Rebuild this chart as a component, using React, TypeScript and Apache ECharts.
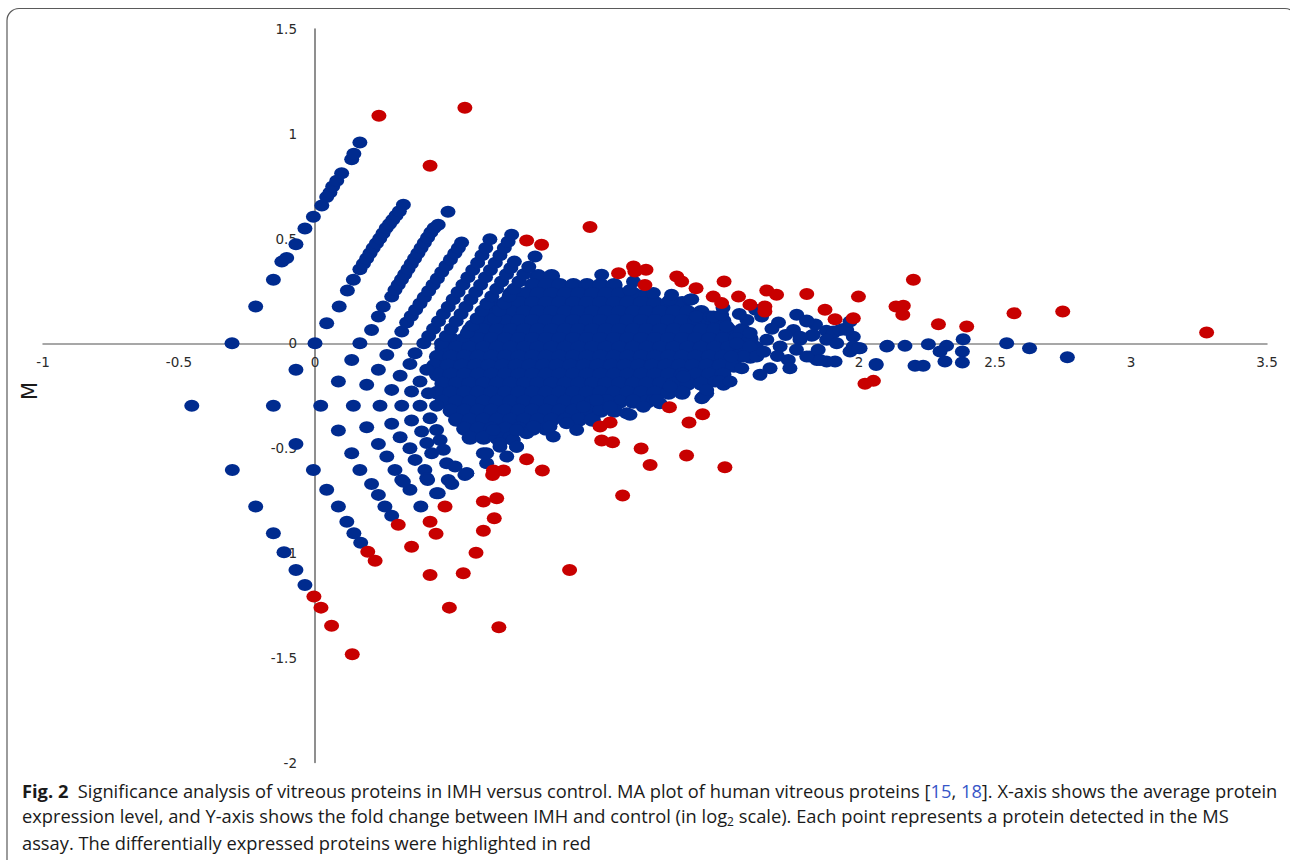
import React, { useEffect, useRef } from "react";
import * as echarts from "echarts";

// Axis ticks
const xMin = -1, xMax = 3.5, xStep = 0.5;
const yMin = -2, yMax = 1.5, yStep = 0.5;

// Upper-left diagonal stripes (blue)
const blueUpperStripes: number[][] = [
  [-0.305, 0], [-0.218, 0.176], [-0.153, 0.303], [-0.122, 0.39], [-0.104, 0.407], [-0.07, 0.473], [-0.037, 0.548],
  [-0.006, 0.604], [0.025, 0.658], [0.043, 0.698], [0.055, 0.72], [0.065, 0.748], [0.08, 0.776], [0.098, 0.812],
  [0.135, 0.879], [0.143, 0.905], [0.165, 0.958],
  [0, 0], [0.043, 0.096], [0.089, 0.176], [0.119, 0.252], [0.141, 0.303], [0.165, 0.354], [0.178, 0.38], [0.19, 0.405],
  [0.202, 0.43], [0.214, 0.455], [0.226, 0.478], [0.238, 0.5], [0.25, 0.525], [0.262, 0.55], [0.274, 0.57], [0.286, 0.59],
  [0.298, 0.61], [0.31, 0.63], [0.325, 0.661],
  [0.165, 0], [0.208, 0.064], [0.233, 0.128], [0.251, 0.176], [0.282, 0.223], [0.294, 0.255], [0.306, 0.28], [0.318, 0.305],
  [0.33, 0.33], [0.342, 0.355], [0.354, 0.38], [0.366, 0.405], [0.378, 0.43], [0.39, 0.455], [0.402, 0.48], [0.414, 0.505],
  [0.426, 0.53], [0.438, 0.55], [0.453, 0.566], [0.489, 0.628],
  [0.294, 0], [0.319, 0.056], [0.337, 0.1], [0.354, 0.13], [0.37, 0.16], [0.386, 0.19], [0.402, 0.22], [0.418, 0.25],
  [0.434, 0.28], [0.45, 0.31], [0.466, 0.34], [0.482, 0.37], [0.498, 0.4], [0.514, 0.43], [0.527, 0.455], [0.539, 0.481],
  [0.4, 0], [0.418, 0.035], [0.436, 0.07], [0.454, 0.105], [0.472, 0.14], [0.49, 0.175], [0.508, 0.21], [0.526, 0.245],
  [0.544, 0.28], [0.562, 0.315], [0.58, 0.35], [0.598, 0.385], [0.614, 0.42], [0.628, 0.455], [0.643, 0.497],
  [0.465, 0], [0.483, 0.035], [0.501, 0.07], [0.519, 0.105], [0.537, 0.14], [0.555, 0.175], [0.573, 0.21], [0.591, 0.245],
  [0.609, 0.28], [0.627, 0.315], [0.645, 0.35], [0.663, 0.385], [0.68, 0.42], [0.696, 0.455], [0.71, 0.485], [0.723, 0.518],
  [0.56, 0.05], [0.578, 0.085], [0.596, 0.12], [0.614, 0.155], [0.632, 0.19], [0.65, 0.225], [0.668, 0.26], [0.686, 0.295],
  [0.704, 0.33], [0.72, 0.36], [0.733, 0.39],
  [0.66, 0.12], [0.678, 0.155], [0.696, 0.19], [0.714, 0.225], [0.732, 0.26], [0.75, 0.295], [0.768, 0.33], [0.786, 0.365],
  [0.809, 0.414],
];

// Lower-left lattice (blue)
const blueLowerLattice: number[][] = [
  [-0.453, -0.298], [-0.304, -0.604], [-0.218, -0.779], [-0.153, -0.906], [-0.114, -0.997], [-0.07, -1.081], [-0.037, -1.153],
  [-0.153, -0.298], [0.021, -0.298], [-0.07, -0.126], [-0.07, -0.48], [-0.006, -0.604], [0.043, -0.699], [0.086, -0.779],
  [0.117, -0.851], [0.143, -0.906], [0.168, -0.951], [0.135, -0.079], [0.086, -0.182],
  [0.264, -0.055], [0.349, -0.098], [0.368, -0.047], [0.411, -0.126], [0.19, -0.198], [0.233, -0.126], [0.282, -0.222],
  [0.313, -0.155], [0.355, -0.23], [0.386, -0.182], [0.417, -0.238],
  [0.141, -0.298], [0.239, -0.298], [0.319, -0.298], [0.386, -0.298], [0.447, -0.298],
  [0.086, -0.416], [0.19, -0.4], [0.282, -0.384], [0.355, -0.368], [0.392, -0.421], [0.423, -0.357], [0.447, -0.413],
  [0.135, -0.524], [0.233, -0.48], [0.264, -0.54], [0.313, -0.448], [0.349, -0.5], [0.368, -0.556], [0.411, -0.476],
  [0.429, -0.524], [0.46, -0.461], [0.472, -0.508],
  [0.165, -0.604], [0.294, -0.604], [0.404, -0.604], [0.484, -0.572], [0.515, -0.588],
  [0.208, -0.671], [0.319, -0.652], [0.411, -0.644], [0.551, -0.628],
  [0.233, -0.723], [0.349, -0.699], [0.453, -0.715], [0.49, -0.652],
  [0.257, -0.779], [0.282, -0.823], [0.325, -0.66], [0.389, -0.779], [0.414, -0.652], [0.503, -0.671],
  [0.619, -0.524], [0.68, -0.476], [0.729, -0.461], [0.631, -0.572], [0.705, -0.54], [0.558, -0.62], [0.741, -0.493],
];

// Dense core: rows of [M, A values]
const coreRows: [number, number[]][] = [
  [0.322, [0.82, 0.87]],
  [0.279, [0.8, 0.85, 0.9, 0.95, 1.0, 1.05, 1.1]],
  [0.236, [0.72, 0.77, 0.82, 0.87, 0.92, 0.97, 1.02, 1.07, 1.12, 1.17, 1.22]],
  [0.193, [0.65, 0.7, 0.75, 0.8, 0.85, 0.9, 0.95, 1.0, 1.05, 1.1, 1.15, 1.2, 1.25, 1.3, 1.35]],
  [0.15, [0.62, 0.67, 0.72, 0.77, 0.82, 0.87, 0.92, 0.97, 1.02, 1.07, 1.12, 1.17, 1.22, 1.27, 1.32, 1.37, 1.42]],
  [0.107, [0.6, 0.65, 0.7, 0.75, 0.8, 0.85, 0.9, 0.95, 1.0, 1.05, 1.1, 1.15, 1.2, 1.25, 1.3, 1.35, 1.4, 1.45, 1.5]],
  [0.064, [0.57, 0.62, 0.67, 0.72, 0.77, 0.82, 0.87, 0.92, 0.97, 1.02, 1.07, 1.12, 1.17, 1.22, 1.27, 1.32, 1.37, 1.42, 1.47, 1.52, 1.57]],
  [0.021, [0.5, 0.55, 0.6, 0.65, 0.7, 0.75, 0.8, 0.85, 0.9, 0.95, 1.0, 1.05, 1.1, 1.15, 1.2, 1.25, 1.3, 1.35, 1.4, 1.45, 1.5, 1.55, 1.6]],
  [-0.021, [0.47, 0.52, 0.57, 0.62, 0.67, 0.72, 0.77, 0.82, 0.87, 0.92, 0.97, 1.02, 1.07, 1.12, 1.17, 1.22, 1.27, 1.32, 1.37, 1.42, 1.47, 1.52, 1.57, 1.62]],
  [-0.064, [0.45, 0.5, 0.55, 0.6, 0.65, 0.7, 0.75, 0.8, 0.85, 0.9, 0.95, 1.0, 1.05, 1.1, 1.15, 1.2, 1.25, 1.3, 1.35, 1.4, 1.45, 1.5, 1.55, 1.6]],
  [-0.107, [0.44, 0.49, 0.54, 0.59, 0.64, 0.69, 0.74, 0.79, 0.84, 0.89, 0.94, 0.99, 1.04, 1.09, 1.14, 1.19, 1.24, 1.29, 1.34, 1.39, 1.44, 1.49, 1.54]],
  [-0.15, [0.45, 0.5, 0.55, 0.6, 0.65, 0.7, 0.75, 0.8, 0.85, 0.9, 0.95, 1.0, 1.05, 1.1, 1.15, 1.2, 1.25, 1.3, 1.35, 1.4, 1.45, 1.5]],
  [-0.193, [0.47, 0.52, 0.57, 0.62, 0.67, 0.72, 0.77, 0.82, 0.87, 0.92, 0.97, 1.02, 1.07, 1.12, 1.17, 1.22, 1.27, 1.32, 1.37, 1.42]],
  [-0.236, [0.45, 0.5, 0.55, 0.6, 0.65, 0.7, 0.75, 0.8, 0.85, 0.9, 0.95, 1.0, 1.05, 1.1, 1.15, 1.2, 1.25, 1.3, 1.35]],
  [-0.279, [0.47, 0.52, 0.57, 0.62, 0.67, 0.72, 0.77, 0.82, 0.87, 0.92, 0.97, 1.02, 1.07, 1.12, 1.17, 1.22]],
  [-0.322, [0.5, 0.55, 0.6, 0.65, 0.7, 0.75, 0.8, 0.85, 0.9, 0.95, 1.0, 1.05, 1.1]],
  [-0.365, [0.52, 0.57, 0.62, 0.67, 0.72, 0.77, 0.82, 0.87, 0.92, 0.97, 1.02]],
  [-0.408, [0.55, 0.6, 0.65, 0.7, 0.75, 0.8, 0.85]],
  [-0.451, [0.57, 0.62, 0.67, 0.72]],
];

// Scattered blue points around the core and the right-hand tail
const blueScatter: number[][] = [
  [1.054, 0.327], [1.171, 0.295], [1.158, 0.255], [1.244, 0.24], [1.305, 0.208], [1.379, 0.208], [1.311, 0.232],
  [1.385, 0.211], [1.403, 0.128], [1.452, 0.128], [1.465, 0.128], [1.495, 0.136], [1.514, 0.08], [1.588, 0.112],
  [1.642, 0.128], [1.704, 0.099], [1.771, 0.136], [1.808, 0.109], [1.759, 0.064], [1.826, 0.036], [1.906, 0.056],
  [1.942, 0.068], [1.979, 0.032], [2.004, -0.023], [2.102, -0.015], [2.063, -0.103], [1.845, -0.079], [1.881, -0.087],
  [1.82, -0.063], [1.74, -0.079], [1.746, -0.119], [1.673, -0.119], [1.636, -0.15], [1.569, -0.119], [1.502, -0.198],
  [1.471, -0.182], [1.44, -0.238], [1.422, -0.262], [1.661, 0.017], [1.71, -0.015], [1.783, 0.017], [1.55, 0.001],
  [1.599, -0.015], [1.575, -0.063], [1.624, -0.063], [1.53, -0.063],
  [1.6, 0.05], [1.68, 0.07], [1.73, 0.04], [1.65, -0.04], [1.7, -0.06], [1.77, -0.03], [1.85, -0.03], [1.88, 0.06],
  [1.84, 0.09], [1.5, 0.17], [1.56, 0.14], [1.62, 0.16],
  [2.104, -0.012], [2.169, -0.012], [2.255, -0.004], [2.322, -0.012], [2.298, -0.039], [2.316, -0.087], [2.063, -0.099],
  [2.206, -0.107], [2.236, -0.107], [2.383, 0.02], [2.38, -0.039], [2.38, -0.091], [2.543, 0.001], [2.627, -0.023],
  [2.766, -0.066], [1.979, -0.015], [1.967, -0.039], [2.0, -0.023], [1.906, 0.049], [1.93, 0.064], [1.955, 0.064],
  [1.967, 0.104], [1.832, 0.041], [1.808, 0.104], [1.783, 0.032], [1.857, -0.079], [1.912, -0.087], [1.808, -0.063],
  [1.881, 0.017], [1.918, 0.001],
  [0.876, -0.445], [0.962, -0.413], [1.048, -0.317], [1.072, -0.27], [1.146, -0.333], [1.17, -0.27], [1.244, -0.27],
  [1.268, -0.286], [1.428, -0.254], [1.44, -0.222], [1.489, -0.182], [1.526, -0.182], [1.305, -0.206], [1.354, -0.158],
  [0.778, -0.429], [0.741, -0.493], [0.68, -0.493], [0.631, -0.524], [0.558, -0.62], [0.447, -0.715], [1.085, -0.302],
  [1.158, -0.341], [1.207, -0.302], [1.256, -0.27], [0.987, -0.302], [1.035, -0.27], [0.925, -0.381], [0.864, -0.397],
  [0.803, -0.397], [0.741, -0.413], [0.656, -0.413],
];

// Differentially expressed proteins (red)
const redPoints: number[][] = [
  [0.235, 1.086], [0.551, 1.124], [0.423, 0.847], [0.778, 0.491], [0.833, 0.47], [1.011, 0.555], [1.116, 0.335],
  [1.171, 0.367], [1.176, 0.343], [1.217, 0.351], [1.213, 0.279], [1.33, 0.319], [1.348, 0.295], [1.401, 0.263],
  [1.504, 0.295], [1.464, 0.223], [1.495, 0.192], [1.557, 0.223], [1.599, 0.184], [1.661, 0.252], [1.697, 0.232],
  [1.654, 0.176], [1.654, 0.152], [1.808, 0.236], [1.875, 0.16], [1.912, 0.115], [1.979, 0.12], [1.998, 0.223],
  [2.2, 0.303], [2.136, 0.176], [2.163, 0.179], [2.161, 0.136], [2.292, 0.091], [2.396, 0.08], [2.57, 0.144],
  [2.749, 0.152], [3.278, 0.052], [2.022, -0.193], [2.053, -0.179],
  [1.303, -0.305], [1.425, -0.338], [1.375, -0.378], [1.048, -0.397], [1.085, -0.378], [1.054, -0.464], [1.094, -0.472],
  [1.199, -0.502], [1.232, -0.58], [1.366, -0.535], [1.507, -0.591], [1.131, -0.726], [0.936, -1.081],
  [0.778, -0.553], [0.836, -0.607], [0.656, -0.607], [0.693, -0.607], [0.653, -0.628], [0.619, -0.755], [0.668, -0.739],
  [0.659, -0.834], [0.619, -0.894], [0.592, -0.999], [0.545, -1.097], [0.494, -1.261], [0.676, -1.355],
  [0.478, -0.779], [0.423, -0.851], [0.445, -0.909], [0.355, -0.97], [0.423, -1.105], [0.306, -0.866],
  [0.194, -0.994], [0.221, -1.037], [-0.004, -1.208], [0.022, -1.261], [0.061, -1.348], [0.137, -1.484],
];

const captionLines = [
  "{b|Fig. 2}  Significance analysis of vitreous proteins in IMH versus control. MA plot of human vitreous proteins [{l|15}, {l|18}]. X-axis shows the average protein",
  "expression level, and Y-axis shows the fold change between IMH and control (in log{s|2} scale). Each point represents a protein detected in the MS",
  "assay. The differentially expressed proteins were highlighted in red",
];

const BLUE = "#002b8f";
const RED = "#c80000";
const DOT = "path://M0,6 A6,6 0 1,1 12,6 A6,6 0 1,1 0,6 Z";

// layout (pixels)
const W = 1290, H = 860;
const G_LEFT = 43, G_RIGHT = 23, G_TOP = 29, G_BOTTOM = 97.5;

export default function App() {
  const ref = useRef<HTMLDivElement>(null);

  useEffect(() => {
    if (!ref.current) return;
    const chart = echarts.init(ref.current, undefined, { renderer: "svg" });

    const corePoints: number[][] = [];
    coreRows.forEach(([m, as]) => as.forEach((a) => corePoints.push([a, m])));
    const blue = [...blueUpperStripes, ...blueLowerLattice, ...blueScatter];

    const plotW = W - G_LEFT - G_RIGHT;
    const plotH = H - G_TOP - G_BOTTOM;
    const xZeroOffset = ((0 - xMin) / (xMax - xMin)) * plotW; // from left edge
    const yZeroOffset = ((0 - yMin) / (yMax - yMin)) * plotH; // from bottom edge

    const axisLabel = {
      color: "#2a2a2a",
      fontSize: 13.5,
      fontFamily: "DejaVu Sans",
      showMinLabel: true,
      showMaxLabel: true,
    };

    const FS = 18.3;
    const captionFont = { fontFamily: "Open Sans", fontSize: FS, fill: "#1a1a1a" };
    const rich = {
      b: { fontFamily: "Open Sans", fontSize: FS, fontWeight: "bold", fill: "#1a1a1a" },
      l: { fontFamily: "Open Sans", fontSize: FS, fill: "#3656c8" },
      s: { fontFamily: "Open Sans", fontSize: 12, fill: "#1a1a1a", verticalAlign: "bottom", lineHeight: 15 },
    };

    const dotSeries = (data: number[][], color: string, size: number[], z: number) => ({
      type: "scatter",
      data,
      symbol: DOT,
      symbolSize: size,
      itemStyle: { color, opacity: 1 },
      emphasis: { disabled: true },
      z,
    });

    chart.setOption({
      animation: false,
      backgroundColor: "#ffffff",
      grid: { left: G_LEFT, right: G_RIGHT, top: G_TOP, bottom: G_BOTTOM, containLabel: false },
      xAxis: {
        type: "value",
        position: "bottom",
        offset: -yZeroOffset,
        min: xMin,
        max: xMax,
        interval: xStep,
        axisLine: { onZero: false, lineStyle: { color: "#8a8a8a", width: 1.5 } },
        axisTick: { show: false },
        splitLine: { show: false },
        axisLabel: { ...axisLabel, margin: 12 },
      },
      yAxis: {
        type: "value",
        position: "left",
        offset: -xZeroOffset,
        min: yMin,
        max: yMax,
        interval: yStep,
        axisLine: { onZero: false, lineStyle: { color: "#6a6a6a", width: 1.5 } },
        axisTick: { show: false },
        splitLine: { show: false },
        axisLabel: { ...axisLabel, margin: 18 },
      },
      series: [
        dotSeries(corePoints, BLUE, [17, 14], 2),
        dotSeries(blue, BLUE, [15, 12], 2),
        dotSeries(redPoints, RED, [15, 12], 3),
      ],
      graphic: [
        {
          type: "rect",
          silent: true,
          z: -10,
          shape: { x: 7, y: 8.5, width: 1290, height: 900, r: 12 },
          style: { fill: "none", stroke: "#5a5a5a", lineWidth: 1.2 },
        },
        {
          type: "text",
          x: 30,
          y: 391,
          rotation: Math.PI / 2,
          style: {
            text: "M",
            fontFamily: "DejaVu Sans",
            fontSize: 21,
            fill: "#1a1a1a",
            align: "center",
            verticalAlign: "middle",
          },
        },
        ...captionLines.map((t, i) => ({
          type: "text",
          x: 22,
          y: [790, 815.5, 842][i],
          style: {
            text: t,
            ...captionFont,
            align: "left",
            verticalAlign: "middle",
            lineHeight: 24,
            rich,
          },
        })),
      ],
    });

    return () => chart.dispose();
  }, []);

  return (
    <div
      ref={ref}
      style={{ position: "absolute", left: 0, top: 0, width: W, height: H, background: "#fff" }}
    />
  );
}
